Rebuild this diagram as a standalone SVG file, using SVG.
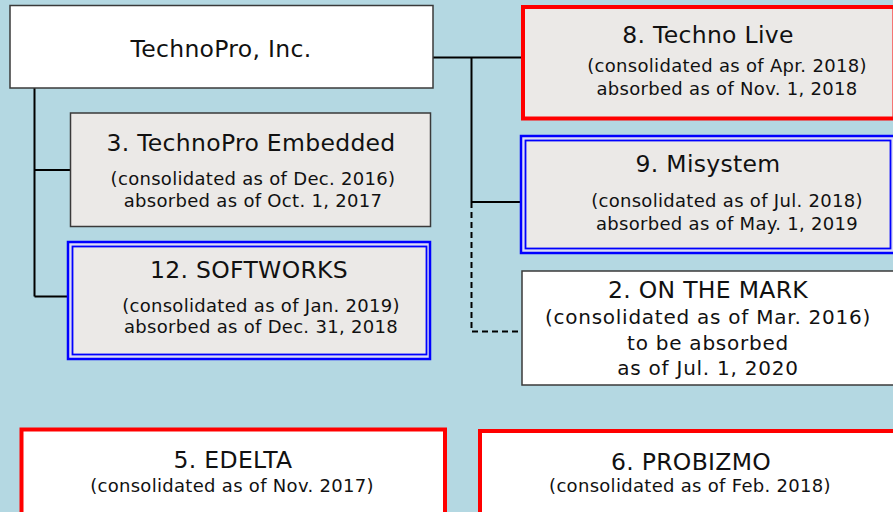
<svg xmlns="http://www.w3.org/2000/svg" width="893" height="512" viewBox="0 0 893 512">
<style>
text{font-family:"DejaVu Sans","Liberation Sans",sans-serif;fill:#111;text-anchor:middle}
.t{font-size:23.5px;letter-spacing:0.3px}
.s{font-size:18px;letter-spacing:0.3px}
.s2{font-size:20px;letter-spacing:0.75px}
.plain{stroke:#3a3a3a;stroke-width:1.5}
.red{stroke:#ff0000;stroke-width:4}
.bo{stroke:#0000ff;stroke-width:2.5;fill:#dcdcf4}
.bi{stroke:#0000ff;stroke-width:1.8;fill:#ebe9e7}
.gray{fill:#ebe9e7}
.white{fill:#ffffff}
.c{stroke:#000;stroke-width:2;fill:none}
.d{stroke-dasharray:6 4}
</style>
<rect width="893" height="512" fill="#b4d8e2"/>
<g id="connectors">
<path class="c" d="M34.5 88V296.5M34.5 170H70.5M34.5 296.5H67"/>
<path class="c" d="M433 57.5H521M471.5 57.5V202M471.5 202H520"/>
<path class="c d" d="M471.5 202V331.5H522"/>
</g>
<g id="technopro">
<rect class="plain white" x="10" y="5.5" width="423" height="82.5"/>
<text class="t" x="221" y="57">TechnoPro, Inc.</text>
</g>
<g id="n3">
<rect class="plain gray" x="70.5" y="113" width="360" height="113.5"/>
<text class="t" x="251" y="151">3. TechnoPro Embedded</text>
<text class="s" x="253" y="185">(consolidated as of Dec. 2016)</text>
<text class="s" x="253" y="207">absorbed as of Oct. 1, 2017</text>
</g>
<g id="n12">
<rect class="bo" x="68" y="242" width="362" height="117"/>
<rect class="bi" x="72.5" y="246.5" width="354" height="108"/>
<text class="t" x="249" y="278">12. SOFTWORKS</text>
<text class="s" x="261" y="312">(consolidated as of Jan. 2019)</text>
<text class="s" x="261" y="333">absorbed as of Dec. 31, 2018</text>
</g>
<g id="n8">
<rect class="red gray" x="523" y="7" width="371.5" height="111.5"/>
<text class="t" x="708" y="43">8. Techno Live</text>
<text class="s" x="727" y="72">(consolidated as of Apr. 2018)</text>
<text class="s" x="727" y="95">absorbed as of Nov. 1, 2018</text>
</g>
<g id="n9">
<rect class="bo" x="521" y="136" width="380" height="117"/>
<rect class="bi" x="525.5" y="140.5" width="365" height="108"/>
<text class="t" x="708" y="172">9. Misystem</text>
<text class="s" x="727" y="207">(consolidated as of Jul. 2018)</text>
<text class="s" x="727" y="230">absorbed as of May. 1, 2019</text>
</g>
<g id="n2">
<rect class="plain white" x="522" y="271" width="380" height="114"/>
<text class="t" x="708" y="298">2. ON THE MARK</text>
<text class="s2" x="708" y="324">(consolidated as of Mar. 2016)</text>
<text class="s2" x="708" y="350">to be absorbed</text>
<text class="s2" x="708" y="375">as of Jul. 1, 2020</text>
</g>
<g id="n5">
<rect class="red white" x="21.5" y="429.5" width="423.5" height="92"/>
<text class="t" x="233" y="468">5. EDELTA</text>
<text class="s" x="232" y="492">(consolidated as of Nov. 2017)</text>
</g>
<g id="n6">
<rect class="red white" x="480" y="431" width="420" height="92"/>
<text class="t" x="691" y="470">6. PROBIZMO</text>
<text class="s" x="690" y="492">(consolidated as of Feb. 2018)</text>
</g>
</svg>
